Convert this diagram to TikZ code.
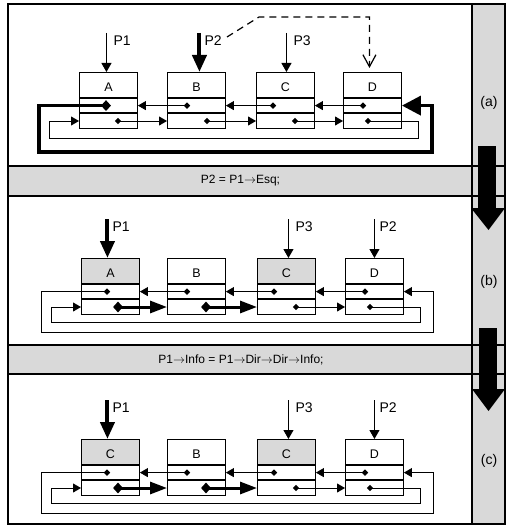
\documentclass[tikz,border=0pt]{standalone}
\usepackage{fontspec}
\setmainfont{Liberation Sans}
\usetikzlibrary{arrows.meta,shapes.geometric,calc}
\definecolor{bandgray}{RGB}{217,217,217}
\newcommand\myarr{\ensuremath{\rightarrow}}
\tikzset{
  hdr/.style={draw, line width=0.9pt, minimum width=58pt, minimum height=25pt,
    inner sep=0pt, anchor=north west, font=\fontsize{12.5}{14}\selectfont,
    text height=14pt, text depth=0pt},
  cell/.style={draw, line width=0.9pt, minimum width=58pt, minimum height=14.5pt,
    inner sep=0pt, anchor=north},
  dot/.style={diamond, fill=black, inner sep=0pt, minimum width=6.5pt, minimum height=6.5pt},
  bigdot/.style={diamond, fill=black, inner sep=0pt, minimum width=10pt, minimum height=11pt},
  link/.style={line width=0.9pt, -{Triangle[length=8pt,width=9pt]}},
  thicklink/.style={line width=3pt, -{Triangle[length=17pt,width=12pt]}},
  bigloop/.style={line width=3.5pt, -{Triangle[length=19pt,width=19pt]}},
  ptr/.style={line width=0.9pt, -{Triangle[length=9pt,width=10pt]}},
  thickptr/.style={line width=4pt, -{Triangle[length=17pt,width=14pt]}},
  plabel/.style={anchor=west, inner sep=0pt, font=\fontsize{14}{16}\selectfont},
  bandtext/.style={inner sep=0pt, font=\fontsize{12}{14}\selectfont},
  panellabel/.style={inner sep=0pt, font=\fontsize{14}{16}\selectfont},
  dashlink/.style={line width=1.2pt, dash pattern=on 7pt off 5pt,
    -{Straight Barb[length=12pt,width=13pt]}},
  frame/.style={line width=1.8pt},
}
% box: name, x, label, fill
\newcommand\mkcell[4]{%
  \node[hdr, fill=#4] (#1h) at (#2,0) {#3};
  \node[cell] (#1p) at (#1h.south) {};
  \node[cell] (#1n) at (#1p.south) {};
}
% panels (b) and (c): prefix, first label
\newcommand\panelbc[2]{%
  \mkcell{#1A}{81}{#2}{bandgray}
  \mkcell{#1B}{167}{B}{white}
  \mkcell{#1C}{257}{C}{bandgray}
  \mkcell{#1D}{345}{D}{white}
  \node[dot] (#1Ad1) at ([xshift=26pt]#1Ap.west) {};
  \node[dot] (#1Bd1) at ([xshift=20pt]#1Bp.west) {};
  \node[dot] (#1Cd1) at ([xshift=17pt]#1Cp.west) {};
  \node[dot] (#1Dd1) at ([xshift=20pt]#1Dp.west) {};
  \node[bigdot] (#1Ad2) at ([xshift=37pt]#1An.west) {};
  \node[bigdot] (#1Bd2) at ([xshift=39pt]#1Bn.west) {};
  \node[dot] (#1Cd2) at ([xshift=39pt]#1Cn.west) {};
  \node[dot] (#1Dd2) at ([xshift=25pt]#1Dn.west) {};
  \coordinate (#1oL) at (41,74);
  \coordinate (#1oR) at (433,74);
  \coordinate (#1iL) at (51,64);
  \coordinate (#1iR) at (420,64);
  \draw[link] (#1Bd1.center) -- (#1Ap.east);
  \draw[link] (#1Cd1.center) -- (#1Bp.east);
  \draw[link] (#1Dd1.center) -- (#1Cp.east);
  \draw[link] (#1Ad1.center) -| (#1oL) -- (#1oR) |- (#1Dp.east);
  \draw[thicklink] (#1Ad2.center) -- (#1Bn.west);
  \draw[thicklink] (#1Bd2.center) -- (#1Cn.west);
  \draw[link] (#1Cd2.center) -- (#1Dn.west);
  \draw[link] (#1Dd2.center) -| (#1iR) -- (#1iL) |- (#1An.west);
  \coordinate (#1P1s) at ([xshift=-3pt,yshift=39pt]#1Ah.north);
  \coordinate (#1P1e) at ([xshift=-3pt]#1Ah.north);
  \draw[thickptr] (#1P1s) -- (#1P1e);
  \node[plabel] (#1P1) at ([xshift=2pt,yshift=31.5pt]#1Ah.north) {P1};
  \coordinate (#1P3s) at ([xshift=2pt,yshift=39pt]#1Ch.north);
  \coordinate (#1P3e) at ([xshift=2pt]#1Ch.north);
  \draw[ptr] (#1P3s) -- (#1P3e);
  \node[plabel] (#1P3) at ([xshift=9pt,yshift=31.5pt]#1Ch.north) {P3};
  \coordinate (#1P2s) at ([yshift=39pt]#1Dh.north);
  \draw[ptr] (#1P2s) -- (#1Dh.north);
  \node[plabel] (#1P2) at ([xshift=5pt,yshift=31.5pt]#1Dh.north) {P2};
}
\begin{document}
\begin{tikzpicture}[x=1pt,y=-1pt]
\useasboundingbox (0,0) rectangle (513,532);
% backgrounds
\fill[white] (8,4) rectangle (505,524);
\fill[bandgray] (8,166) rectangle (505,196);
\fill[bandgray] (8,345) rectangle (505,374);
\fill[bandgray] (472,4) rectangle (505,524);

% ---------- panel (a)
\begin{scope}[shift={(0,72)}]
  \mkcell{aA}{79}{A}{white}
  \mkcell{aB}{167}{B}{white}
  \mkcell{aC}{256}{C}{white}
  \mkcell{aD}{343}{D}{white}
  \node[bigdot] (aAd1) at ([xshift=27pt]aAp.west) {};
  \node[dot] (aBd1) at ([xshift=20pt]aBp.west) {};
  \node[dot] (aCd1) at ([xshift=17pt]aCp.west) {};
  \node[dot] (aDd1) at ([xshift=20pt]aDp.west) {};
  \node[dot] (aAd2) at ([xshift=39pt]aAn.west) {};
  \node[dot] (aBd2) at ([xshift=40pt]aBn.west) {};
  \node[dot] (aCd2) at ([xshift=39pt]aCn.west) {};
  \node[dot] (aDd2) at ([xshift=25pt]aDn.west) {};
  \coordinate (aoL) at (39,80);
  \coordinate (aoR) at (432,80);
  \coordinate (aiL) at (49,66);
  \coordinate (aiR) at (418,66);
  \draw[link] (aBd1.center) -- (aAp.east);
  \draw[link] (aCd1.center) -- (aBp.east);
  \draw[link] (aDd1.center) -- (aCp.east);
  \draw[link] (aAd2.center) -- (aBn.west);
  \draw[link] (aBd2.center) -- (aCn.west);
  \draw[link] (aCd2.center) -- (aDn.west);
  \draw[link] (aDd2.center) -| (aiR) -- (aiL) |- (aAn.west);
  \draw[bigloop] (aAd1.center) -| (aoL) -- (aoR) |- (aDp.east);
  % pointers
  \coordinate (aP1s) at ([xshift=-2pt,yshift=39pt]aAh.north);
  \coordinate (aP1e) at ([xshift=-2pt]aAh.north);
  \draw[ptr] (aP1s) -- (aP1e);
  \node[plabel] (aP1) at ([xshift=5pt,yshift=31.5pt]aAh.north) {P1};
  \coordinate (aP2s) at ([xshift=3pt,yshift=39pt]aBh.north);
  \coordinate (aP2e) at ([xshift=3pt]aBh.north);
  \draw[thickptr] (aP2s) -- (aP2e);
  \node[plabel] (aP2) at ([xshift=8pt,yshift=31.5pt]aBh.north) {P2};
  \coordinate (aP3s) at ([xshift=1pt,yshift=39pt]aCh.north);
  \coordinate (aP3e) at ([xshift=1pt]aCh.north);
  \draw[ptr] (aP3s) -- (aP3e);
  \node[plabel] (aP3) at ([xshift=8pt,yshift=31.5pt]aCh.north) {P3};
  % dashed
  \coordinate (aK0) at (227,-35);
  \coordinate (aK1) at (259,-55);
  \coordinate (aDd) at ([xshift=-3pt,yshift=4pt]aDh.north);
  \draw[dashlink] (aK0) -- (aK1) -| (aDd);
\end{scope}

% ---------- panel (b)
\begin{scope}[shift={(0,258)}]
  \panelbc{b}{A}
\end{scope}

% ---------- panel (c)
\begin{scope}[shift={(0,439)}]
  \panelbc{c}{C}
\end{scope}

% frame lines
\draw[frame] (8,4) rectangle (505,524);
\draw[frame] (8,166) -- (505,166);
\draw[frame] (8,196) -- (505,196);
\draw[frame] (8,345) -- (505,345);
\draw[frame] (8,374) -- (505,374);
\draw[frame] (472,4) -- (472,524);

% big down arrows in the column
\fill[black] (478,146) rectangle (496,208);
\fill[black] (471,208) -- (505,208) -- (488.5,230) -- cycle;
\fill[black] (479,328) rectangle (497,389);
\fill[black] (472,389) -- (505,389) -- (488.5,411) -- cycle;

% texts
\node[bandtext] (t1) at (240.5,181) {P2 = P1\myarr Esq;};
\node[bandtext] (t2) at (241,360) {P1\myarr Info = P1\myarr Dir\myarr Dir\myarr Info;};
\node[panellabel] (la) at (489,103) {(a)};
\node[panellabel] (lb) at (489,282) {(b)};
\node[panellabel] (lc) at (489,461) {(c)};
\end{tikzpicture}
\end{document}
